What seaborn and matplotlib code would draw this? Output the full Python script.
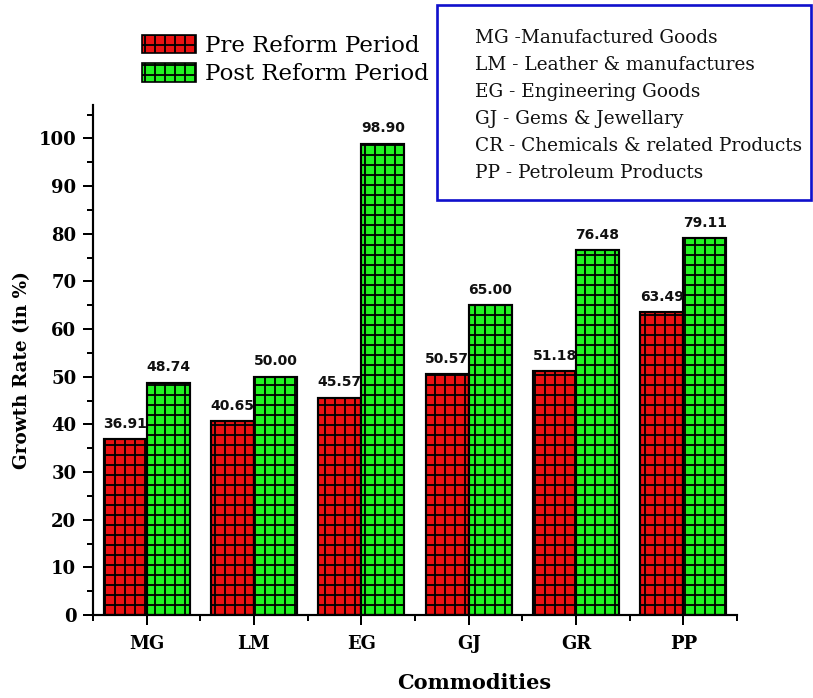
import matplotlib
matplotlib.use("Agg")
import matplotlib.pyplot as plt
from matplotlib.patches import Patch, Rectangle
from matplotlib.ticker import MultipleLocator
import pandas as pd
import seaborn as sns

# Export growth rates by commodity group
categories = ["MG", "LM", "EG", "GJ", "GR", "PP"]
periods = ["Pre Reform Period", "Post Reform Period"]
pre_reform = [36.91, 40.65, 45.57, 50.57, 51.18, 63.49]
post_reform = [48.74, 50.00, 98.90, 65.00, 76.48, 79.11]
key_lines = [
    "MG -Manufactured Goods",
    "LM - Leather & manufactures",
    "EG - Engineering Goods",
    "GJ - Gems & Jewellary",
    "CR - Chemicals & related Products",
    "PP - Petroleum Products",
]

colors = ["#EA1212", "#22F222"]

df = pd.DataFrame({
    "Commodity": categories * 2,
    "Period": [periods[0]] * len(categories) + [periods[1]] * len(categories),
    "Rate": pre_reform + post_reform,
})

sns.set_theme(style="ticks")
plt.rcParams["font.family"] = ["DejaVu Serif"]
plt.rcParams["hatch.linewidth"] = 1.1
plt.rcParams["hatch.color"] = "black"

DPI = 120
fig = plt.figure(figsize=(813 / DPI, 698 / DPI), dpi=DPI)
ax = fig.add_axes([93 / 813, 1 - 615 / 698, (737 - 93) / 813, (615 - 105) / 698])

sns.barplot(data=df, x="Commodity", y="Rate", hue="Period", hue_order=periods,
            palette=colors, width=0.8, saturation=1, ax=ax, legend=False,
            edgecolor="black", linewidth=1.3)

for container, vals in zip(ax.containers, [pre_reform, post_reform]):
    for bar in container:
        bar.set_hatch("++")
        bar.set_edgecolor("black")
    labels = [f"{v:.2f}" for v in vals]
    ax.bar_label(container, labels=labels, padding=5, fontsize=8.3,
                 fontweight="bold", family="DejaVu Sans", color="#111111")

ax.set_xlim(-0.5, 5.5)
ax.set_ylim(0, 107)
ax.yaxis.set_major_locator(MultipleLocator(10))
ax.yaxis.set_minor_locator(MultipleLocator(5))
ax.set_xticks(range(len(categories)))
ax.set_xticklabels(categories)
ax.set_xticks([i + 0.5 for i in range(-1, len(categories))], minor=True)

for side in ["top", "right"]:
    ax.spines[side].set_visible(False)
for side in ["left", "bottom"]:
    ax.spines[side].set_linewidth(1.3)
    ax.spines[side].set_color("black")

ax.tick_params(axis="both", which="major", direction="out", length=6, width=1.2,
               color="black", labelsize=10.8, pad=4)
ax.tick_params(axis="both", which="minor", direction="out", length=3.5, width=1.2,
               color="black")
ax.tick_params(axis="x", which="major", pad=6)
for lab in ax.get_xticklabels() + ax.get_yticklabels():
    lab.set_fontweight("bold")
    lab.set_color("black")

ax.set_ylabel("Growth Rate (in %)", fontsize=11, fontweight="bold", color="black")
ax.yaxis.set_label_coords(-0.096, 0.48)
ax.set_xlabel("")
fig.text(474 / 813, 1 - 683 / 698, "Commodities", ha="center", va="center",
         fontsize=12.5, fontweight="bold", color="black")

handles = [Patch(facecolor=c, edgecolor="black", hatch="++", linewidth=1.0) for c in colors]
leg = fig.legend(handles, periods, loc="upper left",
                 bbox_to_anchor=(126 / 813, 1 - 19 / 698), frameon=False,
                 fontsize=13.7, handlelength=2.35, handleheight=0.85,
                 handletextpad=0.4, labelspacing=0.28, borderpad=0.2)
for t in leg.get_texts():
    t.set_color("black")

# Key for the commodity abbreviations
fig.patches.append(Rectangle((437 / 813, 1 - 200 / 698), (811 - 437) / 813, (200 - 5) / 698,
                             transform=fig.transFigure, facecolor="white",
                             edgecolor="#1010CC", linewidth=1.6, zorder=5))
for i, line in enumerate(key_lines):
    fig.text(475 / 813, 1 - (38 + 27 * i) / 698, line, ha="left", va="center",
             fontsize=11.1, color="#111111", zorder=6)

fig.savefig("out.png", dpi=DPI)
